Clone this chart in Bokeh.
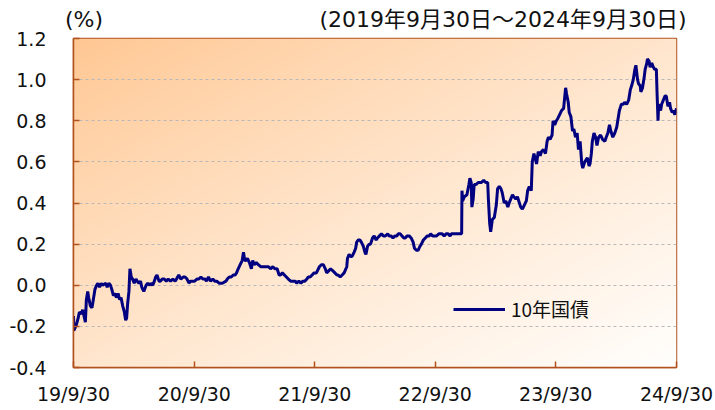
from datetime import datetime
import numpy as np
from bokeh.plotting import figure
from bokeh.models import Range1d, FixedTicker, NumeralTickFormatter, Legend, LegendItem, LinearAxis
from bokeh.embed import file_html
from bokeh.resources import INLINE

# ---------------- data ----------------
dates = [
    "2019-09-30", "2019-10-01", "2019-10-04", "2019-10-09", "2019-10-14", "2019-10-18", "2019-10-23", "2019-10-28",
    "2019-11-01", "2019-11-05", "2019-11-08", "2019-11-12", "2019-11-15", "2019-11-20", "2019-11-25", "2019-11-29",
    "2019-12-04", "2019-12-09", "2019-12-13", "2019-12-18", "2019-12-23", "2019-12-27",
    "2020-01-06", "2020-01-10", "2020-01-15", "2020-01-20", "2020-01-24", "2020-01-29",
    "2020-02-03", "2020-02-07", "2020-02-12", "2020-02-17", "2020-02-21", "2020-02-26",
    "2020-03-02", "2020-03-06", "2020-03-09", "2020-03-12", "2020-03-16", "2020-03-19", "2020-03-23", "2020-03-27",
    "2020-04-01", "2020-04-06", "2020-04-10", "2020-04-15", "2020-04-20", "2020-04-24", "2020-04-30",
    "2020-05-07", "2020-05-12", "2020-05-18", "2020-05-22", "2020-05-27",
    "2020-06-01", "2020-06-05", "2020-06-09", "2020-06-15", "2020-06-19", "2020-06-25",
    "2020-07-01", "2020-07-07", "2020-07-13", "2020-07-20", "2020-07-27",
    "2020-08-03", "2020-08-07", "2020-08-14", "2020-08-20", "2020-08-27",
    "2020-09-02", "2020-09-08", "2020-09-14", "2020-09-18", "2020-09-25",
    "2020-10-01", "2020-10-08", "2020-10-14", "2020-10-20", "2020-10-26",
    "2020-11-02", "2020-11-06", "2020-11-12", "2020-11-18", "2020-11-25",
    "2020-12-01", "2020-12-07", "2020-12-14", "2020-12-18", "2020-12-24",
    "2021-01-04", "2021-01-08", "2021-01-14", "2021-01-20", "2021-01-26",
    "2021-02-01", "2021-02-05", "2021-02-10", "2021-02-16", "2021-02-22", "2021-02-26",
    "2021-03-02", "2021-03-05", "2021-03-10", "2021-03-16", "2021-03-22", "2021-03-26", "2021-03-31",
    "2021-04-06", "2021-04-12", "2021-04-19", "2021-04-26",
    "2021-05-06", "2021-05-13", "2021-05-19", "2021-05-26",
    "2021-06-01", "2021-06-08", "2021-06-14", "2021-06-18", "2021-06-24", "2021-06-30",
    "2021-07-06", "2021-07-12", "2021-07-19", "2021-07-26",
    "2021-08-02", "2021-08-06", "2021-08-13", "2021-08-19", "2021-08-25", "2021-08-31",
    "2021-09-06", "2021-09-10", "2021-09-16", "2021-09-22", "2021-09-28",
    "2021-10-05", "2021-10-08", "2021-10-14", "2021-10-20", "2021-10-26",
    "2021-11-01", "2021-11-05", "2021-11-11", "2021-11-17", "2021-11-24", "2021-11-30",
    "2021-12-06", "2021-12-10", "2021-12-16", "2021-12-22", "2021-12-28",
    "2022-01-05", "2022-01-07", "2022-01-12", "2022-01-17", "2022-01-21", "2022-01-27",
    "2022-02-01", "2022-02-04", "2022-02-09", "2022-02-14", "2022-02-18", "2022-02-24",
    "2022-03-01", "2022-03-04", "2022-03-09", "2022-03-14", "2022-03-18", "2022-03-24", "2022-03-29",
    "2022-04-04", "2022-04-08", "2022-04-14", "2022-04-20", "2022-04-26",
    "2022-05-02", "2022-05-09", "2022-05-13", "2022-05-19", "2022-05-25", "2022-05-31",
    "2022-06-06", "2022-06-10", "2022-06-16", "2022-06-21", "2022-06-27",
    "2022-07-01", "2022-07-07", "2022-07-13", "2022-07-19", "2022-07-25", "2022-07-29",
    "2022-08-04", "2022-08-09", "2022-08-15", "2022-08-19", "2022-08-25", "2022-08-31",
    "2022-09-06", "2022-09-12", "2022-09-16", "2022-09-22", "2022-09-28",
    "2022-10-04", "2022-10-11", "2022-10-17", "2022-10-21", "2022-10-27",
    "2022-11-02", "2022-11-08", "2022-11-14", "2022-11-18", "2022-11-25",
    "2022-12-01", "2022-12-07", "2022-12-13", "2022-12-19", "2022-12-20", "2022-12-22", "2022-12-27",
    "2023-01-04", "2023-01-10", "2023-01-13", "2023-01-17", "2023-01-19", "2023-01-23", "2023-01-26",
    "2023-02-01", "2023-02-07", "2023-02-13", "2023-02-17", "2023-02-24",
    "2023-03-02", "2023-03-08", "2023-03-10", "2023-03-14", "2023-03-17", "2023-03-22", "2023-03-28",
    "2023-04-03", "2023-04-07", "2023-04-12", "2023-04-17", "2023-04-21", "2023-04-27",
    "2023-05-02", "2023-05-08", "2023-05-12", "2023-05-17", "2023-05-22", "2023-05-26",
    "2023-06-01", "2023-06-06", "2023-06-12", "2023-06-16", "2023-06-21", "2023-06-27",
    "2023-07-03", "2023-07-07", "2023-07-12", "2023-07-18", "2023-07-21", "2023-07-26", "2023-07-31",
    "2023-08-03", "2023-08-08", "2023-08-14", "2023-08-18", "2023-08-24", "2023-08-30",
    "2023-09-04", "2023-09-08", "2023-09-13", "2023-09-19", "2023-09-22", "2023-09-27",
    "2023-10-02", "2023-10-06", "2023-10-12", "2023-10-18", "2023-10-24", "2023-10-30",
    "2023-11-02", "2023-11-07", "2023-11-10", "2023-11-15", "2023-11-20", "2023-11-24", "2023-11-29",
    "2023-12-04", "2023-12-08", "2023-12-13", "2023-12-18", "2023-12-21", "2023-12-27",
    "2024-01-04", "2024-01-09", "2024-01-12", "2024-01-16", "2024-01-19", "2024-01-24", "2024-01-29",
    "2024-02-02", "2024-02-07", "2024-02-13", "2024-02-19", "2024-02-26",
    "2024-03-01", "2024-03-06", "2024-03-11", "2024-03-15", "2024-03-21", "2024-03-27",
    "2024-04-02", "2024-04-05", "2024-04-10", "2024-04-16", "2024-04-22", "2024-04-26",
    "2024-05-02", "2024-05-08", "2024-05-13", "2024-05-17", "2024-05-22", "2024-05-27", "2024-05-30",
    "2024-06-04", "2024-06-07", "2024-06-12", "2024-06-14", "2024-06-19", "2024-06-24", "2024-06-27",
    "2024-07-02", "2024-07-04", "2024-07-09", "2024-07-12", "2024-07-17", "2024-07-22", "2024-07-26", "2024-07-31",
    "2024-08-02", "2024-08-05", "2024-08-07", "2024-08-13", "2024-08-16", "2024-08-21", "2024-08-26", "2024-08-30",
    "2024-09-04", "2024-09-09", "2024-09-12", "2024-09-17", "2024-09-20", "2024-09-25", "2024-09-30",
]

yields = [
    -0.15, -0.22, -0.21, -0.19, -0.16, -0.13, -0.14, -0.12,
    -0.15, -0.18, -0.07, -0.03, -0.06, -0.10, -0.11, -0.07,
    -0.02, 0.00, 0.01, -0.01, 0.01, 0.00,
    0.01, -0.01, 0.01, 0.00, -0.02, -0.05,
    -0.04, -0.06, -0.04, -0.07, -0.06, -0.10,
    -0.13, -0.17, -0.16, -0.09, -0.03, 0.08, 0.04, 0.03,
    0.01, 0.03, 0.02, 0.01, 0.02, -0.01, -0.03,
    0.00, 0.01, 0.00, 0.01, 0.00,
    0.02, 0.04, 0.05, 0.02, 0.02, 0.03,
    0.03, 0.02, 0.03, 0.02, 0.03,
    0.02, 0.03, 0.05, 0.03, 0.04,
    0.04, 0.03, 0.01, 0.02, 0.02,
    0.02, 0.03, 0.03, 0.04, 0.03,
    0.03, 0.02, 0.04, 0.02, 0.03,
    0.02, 0.02, 0.01, 0.01, 0.01,
    0.02, 0.03, 0.04, 0.04, 0.05,
    0.05, 0.06, 0.08, 0.10, 0.12, 0.16,
    0.12, 0.12, 0.13, 0.11, 0.08, 0.12, 0.10,
    0.11, 0.10, 0.09, 0.09,
    0.09, 0.09, 0.08, 0.09,
    0.08, 0.08, 0.05, 0.05, 0.06, 0.05,
    0.04, 0.03, 0.02, 0.02,
    0.02, 0.01, 0.02, 0.01, 0.02, 0.02,
    0.03, 0.04, 0.04, 0.05, 0.06,
    0.06, 0.07, 0.09, 0.10, 0.10,
    0.08, 0.06, 0.07, 0.08, 0.07, 0.06,
    0.05, 0.05, 0.04, 0.05, 0.06,
    0.09, 0.13, 0.15, 0.14, 0.14, 0.16,
    0.18, 0.21, 0.22, 0.22, 0.21, 0.19,
    0.16, 0.15, 0.19, 0.20, 0.20, 0.23, 0.24,
    0.22, 0.23, 0.24, 0.25, 0.24,
    0.24, 0.25, 0.24, 0.24, 0.23, 0.24,
    0.24, 0.25, 0.25, 0.24, 0.23,
    0.23, 0.24, 0.24, 0.23, 0.21, 0.18,
    0.17, 0.17, 0.19, 0.20, 0.22, 0.23,
    0.24, 0.24, 0.25, 0.24, 0.24,
    0.24, 0.25, 0.25, 0.25, 0.24,
    0.25, 0.25, 0.24, 0.25, 0.25,
    0.25, 0.25, 0.25, 0.25, 0.46, 0.41, 0.43,
    0.44, 0.49, 0.52, 0.50, 0.38, 0.42, 0.49,
    0.49, 0.50, 0.50, 0.50, 0.51,
    0.50, 0.50, 0.42, 0.30, 0.26, 0.32, 0.33,
    0.39, 0.47, 0.48, 0.47, 0.45, 0.40,
    0.41, 0.38, 0.40, 0.42, 0.44, 0.43,
    0.42, 0.43, 0.40, 0.38, 0.37, 0.39,
    0.41, 0.46, 0.48, 0.46, 0.60, 0.64, 0.61,
    0.59, 0.65, 0.63, 0.65, 0.66, 0.64,
    0.70, 0.72, 0.71, 0.73, 0.80, 0.78,
    0.80, 0.81, 0.83, 0.85, 0.86, 0.96,
    0.93, 0.89, 0.84, 0.82, 0.75, 0.76, 0.72,
    0.74, 0.66, 0.70, 0.59, 0.57, 0.60,
    0.62, 0.58, 0.59, 0.64, 0.70, 0.74, 0.72,
    0.68, 0.72, 0.73, 0.71, 0.70,
    0.72, 0.74, 0.78, 0.75, 0.72, 0.74,
    0.77, 0.80, 0.85, 0.88, 0.88, 0.89,
    0.88, 0.90, 0.95, 0.97, 1.00, 1.05, 1.07,
    1.00, 0.98, 0.97, 0.94, 0.96, 1.01, 1.05,
    1.08, 1.10, 1.09, 1.06, 1.08, 1.06, 1.05, 1.05,
    0.94, 0.80, 0.88, 0.85, 0.88, 0.90, 0.92, 0.92,
    0.87, 0.89, 0.86, 0.84, 0.85, 0.83, 0.86,
]

x_tick_dates = ["2019-09-30", "2020-09-30", "2021-09-30", "2022-09-30", "2023-09-30", "2024-09-30"]
x_tick_labels = ["19/9/30", "20/9/30", "21/9/30", "22/9/30", "23/9/30", "24/9/30"]
y_ticks = [-0.4, -0.2, 0.0, 0.2, 0.4, 0.6, 0.8, 1.0, 1.2]
series_name = "10年国債"
unit_text = "(%)"
period_text = "(2019年9月30日～2024年9月30日)"

# ---------------- helpers ----------------
EPOCH = datetime(1970, 1, 1)


def to_ms(s):
    return (datetime.strptime(s, "%Y-%m-%d") - EPOCH).total_seconds() * 1000.0


xs = [to_ms(d) for d in dates]
tick_ms = [to_ms(d) for d in x_tick_dates]
x0, x1 = tick_ms[0], tick_ms[-1]
y0, y1 = y_ticks[0], y_ticks[-1]

BROWN = "#B0521E"
NAVY = "#000080"

W, H = 715, 410
ML, MR, MT, MB = 73, 39, 38, 43
FW = W - ML - MR  # frame width in px

p = figure(
    width=W, height=H,
    x_axis_type="datetime",
    x_range=Range1d(x0, x1), y_range=Range1d(y0, y1),
    output_backend="svg", toolbar_location=None,
    min_border_left=ML, min_border_right=MR, min_border_top=MT, min_border_bottom=MB,
    background_fill_color="white", border_fill_color="white",
)

# gradient background (orange top-left -> white bottom-right)
nx, ny = 300, 165
u = np.linspace(0.0, 1.0, nx)[None, :]
v = np.linspace(0.0, 1.0, ny)[:, None]
t = np.clip((u + (1.0 - v)) / 2.0, 0, 1) ** 0.85
c0 = np.array([255, 198, 145], dtype=float)
c1 = np.array([255, 254, 252], dtype=float)
img = np.empty((ny, nx), dtype=np.uint32)
view = img.view(dtype=np.uint8).reshape((ny, nx, 4))
for k in range(3):
    view[:, :, k] = np.round(c0[k] + (c1[k] - c0[k]) * t).astype(np.uint8)
view[:, :, 3] = 255
p.image_rgba(image=[img], x=x0, y=y0, dw=x1 - x0, dh=y1 - y0, level="image")

line_r = p.line(xs, yields, line_color=NAVY, line_width=3)

# axes
for ax in (p.xaxis[0], p.yaxis[0]):
    ax.axis_line_color = BROWN
    ax.axis_line_width = 1.5
    ax.major_tick_line_color = BROWN
    ax.major_tick_line_width = 1.5
    ax.major_tick_in = 6
    ax.major_tick_out = 0
    ax.minor_tick_line_color = None
    ax.major_label_text_font = "DejaVu Sans"
    ax.major_label_text_font_size = "19px"
    ax.major_label_text_color = "#111111"

p.xaxis.ticker = FixedTicker(ticks=tick_ms)
p.xaxis.major_label_overrides = {ms: lab for ms, lab in zip(tick_ms, x_tick_labels)}
p.xaxis.major_label_standoff = 15

p.yaxis.ticker = FixedTicker(ticks=y_ticks)
p.yaxis.formatter = NumeralTickFormatter(format="0.0")
p.yaxis.major_label_standoff = 27

p.xgrid.grid_line_color = None
p.ygrid.grid_line_color = "#B8B8B8"
p.ygrid.grid_line_dash = "3 3"
p.ygrid.grid_line_width = 1

p.outline_line_color = BROWN
p.outline_line_width = 1.5
p.outline_line_alpha = 1

# header texts: "(%)" at the top-left and the period at the top-right,
# drawn as labels of a bare axis placed above the frame
xa = x0 + (10.5 / FW) * (x1 - x0)
xb = x0 + (429.5 / FW) * (x1 - x0)
head = LinearAxis(ticker=FixedTicker(ticks=[xa, xb]),
                  major_label_overrides={xa: unit_text, xb: period_text})
head.axis_line_color = None
head.major_tick_line_color = None
head.minor_tick_line_color = None
head.major_tick_in = 0
head.major_tick_out = 0
head.major_label_standoff = 7
head.major_label_text_font = '"DejaVu Sans", "Noto Sans CJK JP"'
head.major_label_text_font_size = "22px"
head.major_label_text_color = "#111111"
p.add_layout(head, "above")

legend = Legend(items=[LegendItem(label=series_name, renderers=[line_r])],
                location=(380, 45), padding=0, margin=0, spacing=0,
                glyph_width=52, glyph_height=20, label_height=20, label_standoff=6,
                label_text_font="Noto Sans CJK JP", label_text_font_size="19px",
                label_text_color="#111111",
                background_fill_alpha=0, border_line_alpha=0)
p.add_layout(legend)

open("out.html", "w").write(file_html(p, INLINE))
